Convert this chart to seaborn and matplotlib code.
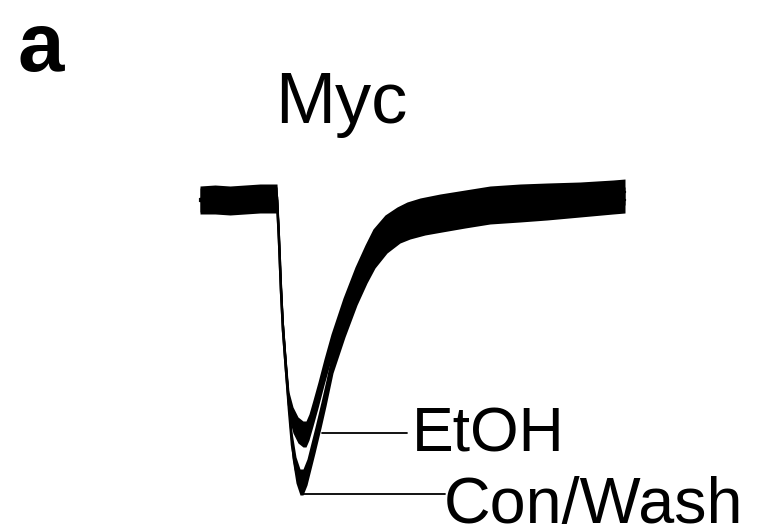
import numpy as np
import pandas as pd
import matplotlib
matplotlib.use("Agg")
import matplotlib.pyplot as plt
import seaborn as sns

# ---- data (time in ms, current in pA) ----
etoh_t = [0, 3, 6, 9, 12, 15.4, 15.8, 16.2, 16.6, 17.2, 17.8, 18.6, 19.6, 20.6, 21.2,
          21.8, 22.6, 23.6, 24.8, 26.2, 28.6, 31, 33, 34.6, 37, 39.4, 41.4, 44, 48,
          53, 58, 64, 69.4, 76, 82.6, 85]
etoh_i = [2, 4, 2, 4, 6, 6, -80, -180, -260, -340, -410, -440, -460, -468, -468,
          -454, -426, -390, -344, -294, -222, -160, -116, -84, -56, -40, -30, -22, -14,
          -6, 2, 6, 8, 10, 14, 16]

con_t = [0, 3, 6, 9, 12, 15.4, 15.8, 16.2, 16.6, 17.2, 17.8, 18.4, 19.2, 20, 20.6,
         21.4, 22.2, 23, 24.2, 25.2, 26.6, 29, 31.4, 33.4, 35, 37.4, 40, 42, 45,
         48.4, 53, 58, 64, 69.4, 76, 82.6, 85]
con_i = [-2, -2, -4, -2, 0, 0, -80, -180, -260, -340, -420, -490, -540, -564, -564,
         -544, -512, -480, -430, -386, -320, -248, -184, -140, -110, -80, -60, -52, -44,
         -38, -30, -22, -18, -14, -8, -2, 0]

labels = ["EtOH", "Con/Wash"]
title = "Myc"
panel = "a"

# leader lines: (level in pA, start ms, end ms)
etoh_leader = (-466, 24.4, 41.4)
con_leader = (-588, 20.6, 49.0)

noise_hw = 26  # half-width of the recording noise band (pA)

df = pd.concat([
    pd.DataFrame({"t": etoh_t, "I": etoh_i, "cond": labels[0]}),
    pd.DataFrame({"t": con_t, "I": con_i, "cond": labels[1]}),
])

sns.set_style("white")
plt.rcParams["font.family"] = ["Liberation Sans", "DejaVu Sans"]
plt.rcParams["text.color"] = "black"

fig = plt.figure(figsize=(7.57, 5.29), dpi=100)
ax = fig.add_axes([0, 0, 1, 1])

sns.lineplot(data=df, x="t", y="I", hue="cond", palette=["black", "black"],
             legend=False, lw=1.8, ax=ax, sort=False, estimator=None)
for tt, ii in ((etoh_t, etoh_i), (con_t, con_i)):
    tt = np.asarray(tt, float)
    ii = np.asarray(ii, float)
    ax.fill_between(tt, ii - noise_hw, ii + noise_hw, color="black", lw=0)

for lvl, t0, t1 in (etoh_leader, con_leader):
    ax.plot([t0, t1], [lvl, lvl], color="black", lw=1.3)

ax.text(42.4, -504, labels[0], fontsize=45, ha="left", va="baseline", color="black")
ax.text(48.8, -646, labels[1], fontsize=46.5, ha="left", va="baseline", color="black")
ax.text(15.0, 154, title, fontsize=52, ha="left", va="baseline", color="black")
fig.text(17 / 757, 1 - 71 / 529, panel, fontsize=60, fontweight="bold",
         ha="left", va="baseline", color="black")

ax.set_xlim(-40, 111.4)
ax.set_ylim(-658, 400)
ax.set_axis_off()

fig.savefig("out.png", dpi=100, facecolor="white")
